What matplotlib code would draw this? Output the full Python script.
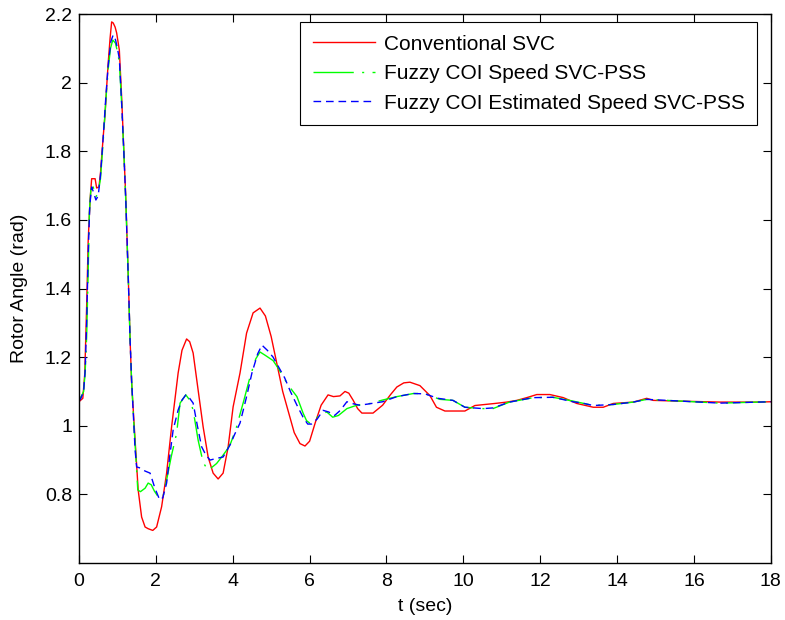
import matplotlib
matplotlib.use("Agg")
import matplotlib.pyplot as plt

plt.rcParams['font.family'] = ['Liberation Sans', 'DejaVu Sans']

# Conventional SVC
t_red = [0.00, 0.10, 0.15, 0.20, 0.24, 0.29, 0.33, 0.42, 0.46, 0.52, 0.56, 0.63, 0.68, 0.72, 0.76,
         0.81, 0.85, 0.89, 0.94, 0.98, 1.05, 1.11, 1.17, 1.22, 1.26, 1.28, 1.33, 1.37, 1.46, 1.54,
         1.63, 1.72, 1.80, 1.92, 2.02, 2.15, 2.28, 2.41, 2.50, 2.58, 2.68, 2.80, 2.88, 2.97, 3.10,
         3.23, 3.36, 3.49, 3.62, 3.75, 3.88, 4.01, 4.19, 4.36, 4.53, 4.71, 4.85, 5.00, 5.15, 5.30,
         5.45, 5.60, 5.75, 5.88, 6.00, 6.15, 6.30, 6.48, 6.62, 6.79, 6.92, 7.02, 7.13, 7.25, 7.36,
         7.65, 7.90, 8.10, 8.27, 8.45, 8.61, 8.87, 9.13, 9.30, 9.52, 10.04, 10.30, 10.82, 11.13,
         11.39, 11.65, 11.91, 12.25, 12.60, 12.95, 13.38, 13.64, 13.90, 14.42, 14.77, 14.94, 15.55,
         16.68, 17.63, 18.00]
y_red = [1.07, 1.08, 1.15, 1.35, 1.54, 1.66, 1.72, 1.72, 1.693, 1.696, 1.737, 1.842, 1.91, 1.987, 2.057,
         2.13, 2.177, 2.174, 2.162, 2.145, 2.095, 1.958, 1.795, 1.658, 1.512, 1.445, 1.25, 1.125, 0.958, 0.813,
         0.734, 0.705, 0.70, 0.695, 0.705, 0.764, 0.862, 0.997, 1.08, 1.154, 1.22, 1.253, 1.245, 1.212, 1.104,
         0.997, 0.909, 0.862, 0.845, 0.862, 0.938, 1.055, 1.154, 1.27, 1.329, 1.343, 1.32, 1.26, 1.18, 1.10,
         1.04, 0.98, 0.948, 0.941, 0.955, 1.01, 1.06, 1.09, 1.085, 1.087, 1.10, 1.095, 1.075, 1.05, 1.037,
         1.037, 1.06, 1.09, 1.113, 1.125, 1.127, 1.117, 1.088, 1.054, 1.043, 1.043, 1.059, 1.065, 1.069,
         1.074, 1.082, 1.091, 1.091, 1.082, 1.065, 1.054, 1.054, 1.065, 1.069, 1.080, 1.074, 1.072,
         1.069, 1.069, 1.070]

# Fuzzy COI Speed SVC-PSS
t_green = [0.00, 0.08, 0.12, 0.16, 0.20, 0.24, 0.27, 0.31, 0.37, 0.44, 0.50, 0.56, 0.63, 0.70, 0.76,
           0.82, 0.88, 0.95, 1.00, 1.05, 1.11, 1.17, 1.22, 1.28, 1.33, 1.37, 1.42, 1.47, 1.53, 1.60,
           1.72, 1.80, 1.88, 1.96, 2.06, 2.18, 2.28, 2.40, 2.54, 2.63, 2.78, 2.88, 2.97, 3.10, 3.23,
           3.36, 3.47, 3.58, 3.72, 3.85, 3.95, 4.10, 4.28, 4.45, 4.60, 4.71, 4.85, 5.05, 5.20, 5.31,
           5.50, 5.67, 5.83, 5.92, 6.00, 6.15, 6.30, 6.45, 6.60, 6.75, 6.97, 7.23, 7.50, 7.90, 8.27,
           8.70, 9.00, 9.13, 9.39, 9.73, 10.04, 10.51, 10.77, 11.20, 11.82, 12.33, 12.85, 13.38, 13.90,
           14.42, 14.77, 15.29, 16.68, 18.00]
y_green = [1.075, 1.09, 1.10, 1.154, 1.26, 1.45, 1.62, 1.69, 1.696, 1.667, 1.68, 1.72, 1.83, 1.95, 2.04,
           2.10, 2.124, 2.115, 2.09, 2.06, 1.94, 1.79, 1.65, 1.44, 1.25, 1.13, 1.02, 0.93, 0.813, 0.808,
           0.818, 0.833, 0.828, 0.81, 0.793, 0.79, 0.842, 0.91, 0.978, 1.066, 1.09, 1.075, 1.046, 0.958, 0.893,
           0.87, 0.88, 0.89, 0.91, 0.93, 0.95, 0.997, 1.07, 1.142, 1.195, 1.215, 1.205, 1.19, 1.165, 1.142,
           1.11, 1.085, 1.037, 1.015, 1.008, 1.02, 1.035, 1.04, 1.025, 1.03, 1.05, 1.06, 1.063, 1.075, 1.085,
           1.094, 1.094, 1.088, 1.077, 1.074, 1.054, 1.050, 1.050, 1.069, 1.082, 1.083, 1.072, 1.059, 1.062,
           1.069, 1.077, 1.074, 1.066, 1.070]

# Fuzzy COI Estimated Speed SVC-PSS
t_blue = [0.00, 0.05, 0.12, 0.16, 0.20, 0.24, 0.28, 0.33, 0.38, 0.44, 0.50, 0.56, 0.63, 0.70, 0.76,
          0.83, 0.89, 0.95, 1.00, 1.05, 1.11, 1.17, 1.22, 1.28, 1.33, 1.37, 1.42, 1.46, 1.50, 1.59,
          1.72, 1.85, 1.97, 2.10, 2.18, 2.28, 2.36, 2.45, 2.58, 2.68, 2.78, 2.88, 2.97, 3.08, 3.19,
          3.30, 3.41, 3.58, 3.75, 3.93, 4.05, 4.19, 4.35, 4.50, 4.65, 4.76, 4.90, 5.05, 5.20, 5.35,
          5.50, 5.67, 5.83, 5.95, 6.05, 6.20, 6.35, 6.50, 6.65, 6.80, 6.97, 7.10, 7.30, 7.50, 7.90,
          8.27, 8.70, 9.00, 9.13, 9.34, 9.73, 10.04, 10.51, 10.77, 11.20, 11.82, 12.33, 12.85, 13.10,
          13.38, 13.90, 14.42, 14.77, 15.29, 16.68, 18.00]
y_blue = [1.072, 1.08, 1.10, 1.16, 1.30, 1.50, 1.64, 1.696, 1.68, 1.658, 1.67, 1.73, 1.84, 1.96, 2.05,
          2.12, 2.139, 2.125, 2.10, 2.07, 1.94, 1.79, 1.65, 1.44, 1.25, 1.13, 1.02, 0.93, 0.88, 0.877,
          0.868, 0.862, 0.82, 0.784, 0.79, 0.833, 0.91, 0.988, 1.046, 1.075, 1.09, 1.08, 1.066, 1.00, 0.939,
          0.915, 0.90, 0.905, 0.909, 0.944, 0.975, 1.008, 1.08, 1.154, 1.21, 1.235, 1.22, 1.20, 1.17, 1.14,
          1.10, 1.06, 1.025, 1.005, 1.005, 1.02, 1.045, 1.04, 1.03, 1.045, 1.07, 1.065, 1.06, 1.063, 1.07,
          1.085, 1.094, 1.093, 1.088, 1.080, 1.074, 1.054, 1.050, 1.052, 1.069, 1.082, 1.083, 1.070, 1.066,
          1.059, 1.062, 1.069, 1.077, 1.074, 1.066, 1.070]

labels = ['Conventional SVC', 'Fuzzy COI Speed SVC-PSS', 'Fuzzy COI Estimated Speed SVC-PSS']
xticks = [0, 2, 4, 6, 8, 10, 12, 14, 16, 18]
yticks = [0.8, 1.0, 1.2, 1.4, 1.6, 1.8, 2.0, 2.2]
ytick_labels = ['0.8', '1', '1.2', '1.4', '1.6', '1.8', '2', '2.2']

fig = plt.figure(figsize=(7.85, 6.2), dpi=100)
ax = fig.add_axes([0.1006, 0.0919, 0.8814, 0.8855])

ax.plot(t_red, y_red, color=(1, 0, 0), lw=1.0, label=labels[0])
ax.plot(t_green, y_green, color=(0, 1, 0), lw=1.0, linestyle=(0, (29, 6, 1.5, 6)), label=labels[1])
ax.plot(t_blue, y_blue, color=(0, 0, 1), lw=1.0, linestyle=(0, (5.5, 3.5)), label=labels[2])

ax.set_xlim(0, 18)
ax.set_ylim(0.6, 2.2)
ax.set_xticks(xticks)
ax.set_xticklabels([str(v) for v in xticks])
ax.set_yticks(yticks)
ax.set_yticklabels(ytick_labels)
ax.tick_params(direction='in', top=True, right=True, length=5.5, width=0.8,
               labelsize=14, colors='black')
ax.tick_params(axis='x', pad=7)
ax.tick_params(axis='y', pad=5)
for s in ax.spines.values():
    s.set_linewidth(1.0)
    s.set_color('black')

ax.set_xlabel('t (sec)', fontsize=14, labelpad=6)
ax.set_ylabel('Rotor Angle (rad)', fontsize=14, labelpad=12)

leg = ax.legend(loc='upper right', bbox_to_anchor=(0.980, 0.985), borderaxespad=0,
                fontsize=15, handlelength=3.0, handletextpad=0.4, labelspacing=0.5,
                borderpad=0.6, fancybox=False, framealpha=1, edgecolor='black')
leg.get_frame().set_linewidth(0.8)

fig.savefig('out.png', dpi=100)
